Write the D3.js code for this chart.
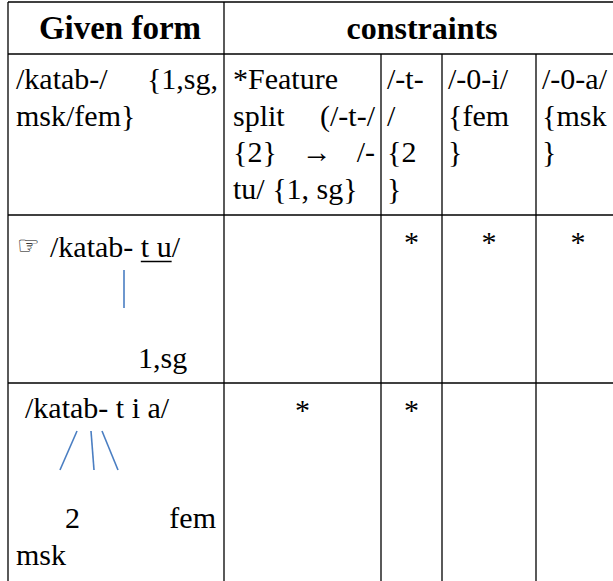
<!DOCTYPE html>
<html>
<head>
<meta charset="utf-8">
<script src="https://cdn.jsdelivr.net/npm/d3@7"></script>
<style>
  body { margin: 0; background: #fff; }
  svg text { font-family: "Liberation Serif", Tinos, "Times New Roman", "Nimbus Roman", "DejaVu Serif"; }
  svg text.sym { font-family: "DejaVu Sans", sans-serif; }
</style>
</head>
<body>
<script>
// table content
let headerLabels = ['Given form', 'constraints'];
let inputLines = [['/katab-/', '{1,sg,'], ['msk/fem}']];
let constraintLines = [
  [['*Feature'], ['split', '(/-t-/'], ['{2}', '→', '/-'], ['tu/', '{1,', 'sg}']],
  [['/-t-'], ['/'], ['{2'], ['}']],
  [['/-0-i/'], ['{fem'], ['}']],
  [['/-0-a/'], ['{msk'], ['}']]
];
let candidates = [
  { mark: '☞', pre: '/katab- ', under: 't u', post: '/' },
  { mark: '', pre: '/katab- t i a/', under: '', post: '' }
];
let candidateFeatures = [[['1,sg']], [['2', 'fem'], ['msk']]];
let violations = [[0, 1, 1, 1], [1, 1, 0, 0]];

// layout
let w = 613;
let h = 581;
let lineH = 36.5;
let cols = ['given', 'c0', 'c1', 'c2', 'c3', 'end'];
let rows = ['head', 'input', 'cand0', 'cand1', 'end'];
let x = d3.scaleOrdinal().domain(cols).range([8, 224, 381, 442, 536, 620]);
let y = d3.scaleOrdinal().domain(rows).range([2, 54, 215, 383, 600]);
let padL = [8, 9, 6, 6, 6];
let padR = 6;
let candBase = [42, 35];
let candIndent = [42, 17];
let featBase = [153, 145];
let featIndent = [122, 49];
// association lines, relative to the candidate cell's top-left
let links = [
  [[116, 55, 116, 93]],
  [[69, 48, 52, 87], [83, 48, 86, 87], [94, 48, 110, 87]]
];

let svg = d3.select('body')
  .append('svg')
  .attr('width', w)
  .attr('height', h);

let g = svg.append('g').attr('font-size', '30px').attr('fill', '#000');

// draw one line of words, justified between x0 and x1 if asked
let drawLine = (words, x0, x1, base, justify) => {
  if (!justify || words.length < 2) {
    g.append('text').attr('x', x0).attr('y', base).text(words.join(' '));
    return;
  }
  let nodes = words.map((wd) => g.append('text').attr('y', base).text(wd));
  let widths = nodes.map((n) => n.node().getComputedTextLength());
  let gap = (x1 - x0 - d3.sum(widths)) / (words.length - 1);
  let cx = x0;
  nodes.forEach((n, i) => {
    n.attr('x', cx);
    cx += widths[i] + gap;
  });
};

let drawPara = (lines, x0, x1, top) => {
  lines.forEach((words, i) => {
    drawLine(words, x0, x1, top + i * lineH, i < lines.length - 1);
  });
};

// header
g.append('text')
  .attr('x', (x('given') + x('c0')) / 2 + 4)
  .attr('y', 39)
  .attr('text-anchor', 'middle')
  .attr('font-weight', 'bold')
  .attr('font-size', '33px')
  .text(headerLabels[0]);
g.append('text')
  .attr('x', (x('c0') + x('end')) / 2)
  .attr('y', 39)
  .attr('text-anchor', 'middle')
  .attr('font-weight', 'bold')
  .attr('font-size', '32px')
  .text(headerLabels[1]);

// input row
drawPara(inputLines, x('given') + padL[0], x('c0') - padR, y('input') + 35);
constraintLines.forEach((lines, i) => {
  let c0 = x(cols[i + 1]);
  let c1 = x(cols[i + 2]);
  drawPara(lines, c0 + padL[i + 1], c1 - padR, y('input') + 35);
});

// candidate rows
candidates.forEach((cand, r) => {
  let top = y(rows[r + 2]);
  let left = x('given');
  let base = top + candBase[r];
  if (cand.mark) {
    g.append('text')
      .attr('class', 'sym')
      .attr('x', left + 9)
      .attr('y', base - 3)
      .attr('font-size', '25px')
      .text(cand.mark);
  }
  let t = g.append('text').attr('x', left + candIndent[r]).attr('y', base);
  t.append('tspan').text(cand.pre);
  let u = t.append('tspan').text(cand.under);
  t.append('tspan').text(cand.post);
  if (cand.under) {
    let bb = u.node().getBBox();
    g.append('line')
      .attr('x1', bb.x).attr('x2', bb.x + bb.width)
      .attr('y1', base + 4.5).attr('y2', base + 4.5)
      .attr('stroke', '#000').attr('stroke-width', 1.5);
  }

  links[r].forEach((l) => {
    g.append('line')
      .attr('x1', left + l[0]).attr('y1', top + l[1])
      .attr('x2', left + l[2]).attr('y2', top + l[3])
      .attr('stroke', '#4a7ec2')
      .attr('stroke-width', 1.6);
  });

  candidateFeatures[r].forEach((words, i) => {
    let x0 = left + padL[0] + (i === 0 ? featIndent[r] : 0);
    drawLine(words, x0, x('c0') - padR - 2, top + featBase[r] + i * lineH,
             i < candidateFeatures[r].length - 1);
  });

  violations[r].forEach((v, i) => {
    if (!v) return;
    g.append('text')
      .attr('x', (x(cols[i + 1]) + x(cols[i + 2])) / 2)
      .attr('y', top + 37)
      .attr('text-anchor', 'middle')
      .text('*');
  });
});

// grid lines
let grid = svg.append('g').attr('stroke', '#000').attr('stroke-width', 1.3);
rows.slice(0, 4).forEach((r) => {
  grid.append('line')
    .attr('x1', x('given')).attr('x2', x('end'))
    .attr('y1', y(r)).attr('y2', y(r));
});
cols.forEach((c) => {
  if (c === 'c1' || c === 'c2' || c === 'c3') {
    grid.append('line')
      .attr('x1', x(c)).attr('x2', x(c))
      .attr('y1', y('input')).attr('y2', y('end'));
  } else {
    grid.append('line')
      .attr('x1', x(c)).attr('x2', x(c))
      .attr('y1', y('head')).attr('y2', y('end'));
  }
});
</script>
</body>
</html>
